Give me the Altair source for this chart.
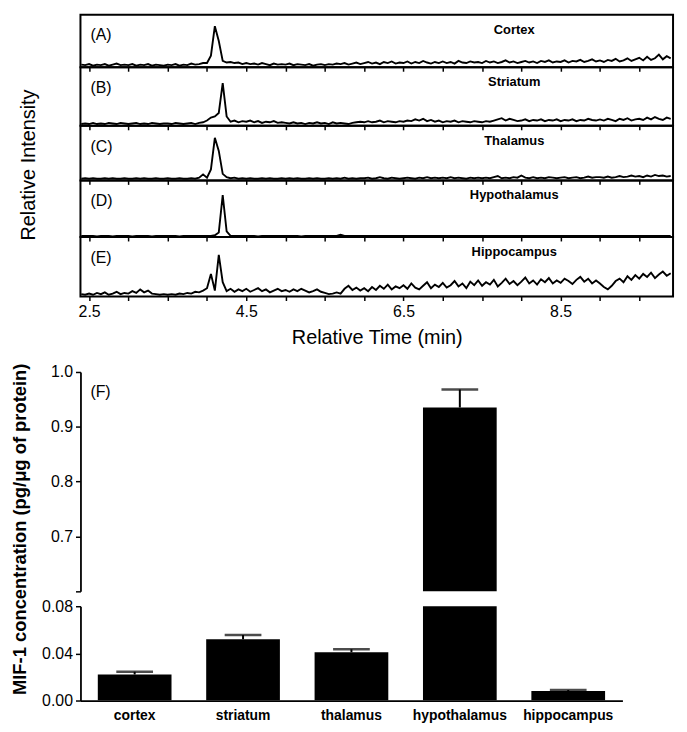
import altair as alt
import pandas as pd

FONT = "Liberation Sans"

# ---------------- chromatograms (A)-(E) ----------------
# sampling grid of the traces, minutes
time_start = 2.4
time_step = 0.05
n_points = 151
times = [round(time_start + time_step * i, 2) for i in range(n_points)]

# relative intensity (% of panel height)
cortex_trace = [5, 4,
    6, 3, 5, 4, 6, 3, 5, 7, 4, 5,
    4, 6, 3, 5, 4, 6, 3, 5, 4, 3,
    5, 4, 6, 3, 5, 4, 7, 5, 6, 8,
    8, 22, 78, 50, 12, 9, 10, 8, 9, 6,
    8, 6, 7, 5, 8, 6, 4, 7, 5, 6,
    5, 7, 4, 6, 5, 4, 6, 3, 5, 6,
    4, 6, 5, 7, 6, 8, 5, 7, 9, 6,
    8, 10, 7, 9, 6, 10, 8, 11, 7, 9,
    8, 11, 7, 10, 8, 12, 9, 7, 10, 8,
    11, 8, 10, 7, 12, 9, 8, 11, 9, 10,
    8, 12, 9, 11, 8, 10, 13, 9, 11, 8,
    10, 12, 9, 11, 8, 12, 10, 13, 9, 11,
    10, 13, 9, 12, 11, 14, 10, 12, 15, 11,
    13, 10, 14, 12, 16, 11, 13, 17, 12, 15,
    18, 13, 20, 14, 17, 24, 15, 21, 17]

striatum_trace = [3, 4,
    3, 5, 3, 4, 3, 5, 4, 3, 5, 4,
    3, 4, 5, 3, 4, 3, 5, 4, 3, 4,
    4, 3, 5, 4, 3, 4, 5, 3, 5, 6,
    9, 14, 16, 22, 73, 16, 7, 9, 6, 8,
    7, 9, 6, 8, 5, 7, 6, 8, 5, 6,
    5, 4, 6, 4, 5, 3, 5, 4, 6, 4,
    5, 3, 6, 4, 5, 4, 3, 5, 6, 7,
    6, 8, 6, 7, 9, 6, 8, 7, 6, 8,
    7, 9, 8, 11, 9, 12, 8, 10, 7, 9,
    6, 8, 7, 9, 6, 8, 7, 6, 8, 7,
    6, 8, 7, 9, 11, 13, 9, 12, 10, 8,
    9, 11, 8, 10, 9, 11, 8, 10, 9, 11,
    8, 10, 9, 11, 8, 10, 9, 12, 10, 9,
    11, 9, 12, 10, 8, 12, 10, 13, 9, 11,
    12, 10, 14, 11, 15, 12, 10, 14, 12]

thalamus_trace = [3, 4,
    3, 4, 3, 3, 4, 3, 4, 3, 3, 4,
    3, 3, 4, 3, 4, 3, 3, 4, 3, 3,
    4, 3, 3, 4, 3, 3, 4, 3, 5, 11,
    5, 20, 78, 54, 12, 6, 4, 5, 3, 4,
    3, 4, 3, 3, 4, 3, 4, 3, 3, 4,
    3, 4, 3, 4, 3, 3, 4, 3, 4, 3,
    3, 4, 3, 4, 3, 5, 3, 4, 3, 4,
    4, 5, 3, 4, 6, 4, 3, 5, 4, 3,
    4, 5, 4, 3, 5, 4, 6, 4, 5, 4,
    5, 4, 6, 4, 5, 4, 3, 5, 4, 5,
    4, 5, 4, 6, 8, 4, 5, 4, 6, 5,
    9, 5, 4, 6, 4, 5, 4, 6, 5, 4,
    5, 6, 4, 5, 6, 4, 5, 7, 5, 6,
    6, 5, 7, 5, 6, 8, 6, 7, 9, 7,
    8, 6, 9, 7, 10, 8, 9, 7, 8]

hypothalamus_trace = [2, 2,
    2, 2, 1, 2, 2, 2, 1, 2, 2, 2,
    2, 1, 2, 2, 2, 2, 1, 2, 2, 2,
    2, 2, 2, 1, 2, 2, 2, 2, 2, 2,
    2, 2, 3, 8, 74, 10, 2, 2, 2, 2,
    2, 2, 2, 1, 2, 2, 2, 2, 2, 2,
    2, 2, 2, 2, 1, 2, 2, 2, 2, 2,
    2, 2, 2, 2, 4, 2, 2, 2, 2, 2,
    2, 2, 2, 2, 2, 2, 2, 2, 2, 2,
    2, 2, 2, 2, 2, 2, 2, 2, 2, 2,
    2, 2, 2, 2, 2, 2, 2, 2, 2, 2,
    2, 2, 2, 2, 2, 2, 2, 2, 2, 2,
    2, 2, 2, 2, 2, 2, 2, 2, 2, 2,
    2, 2, 2, 2, 2, 2, 2, 2, 2, 2,
    2, 2, 2, 2, 2, 2, 2, 2, 2, 2,
    2, 2, 2, 2, 2, 2, 2, 2, 2]

hippocampus_trace = [4, 3,
    5, 3, 6, 4, 7, 3, 5, 8, 4, 6,
    5, 9, 6, 12, 7, 10, 5, 4, 3, 4,
    3, 4, 3, 5, 4, 6, 5, 8, 7, 10,
    14, 38, 10, 70, 24, 9, 13, 8, 12, 9,
    13, 8, 11, 14, 9, 12, 7, 10, 13, 9,
    11, 8, 12, 9, 13, 10, 7, 9, 12, 8,
    6, 4, 5, 7, 5, 13, 18, 11, 15, 10,
    14, 9, 16, 11, 18, 13, 20, 12, 17, 14,
    19, 13, 22, 15, 12, 18, 24, 14, 20, 16,
    23, 15, 19, 26, 17, 22, 14, 25, 19, 27,
    18, 24, 20, 28, 17, 23, 30, 21, 26, 19,
    25, 32, 22, 27, 20, 29, 24, 31, 22, 27,
    23, 30, 26, 21, 28, 33, 25, 30, 22, 27,
    22, 16, 12, 18, 26, 30, 24, 34, 28, 36,
    30, 38, 33, 40, 31, 37, 42, 35, 39]

panel_letters = ["(A)", "(B)", "(C)", "(D)", "(E)"]
panel_names = ["Cortex", "Striatum", "Thalamus", "Hypothalamus", "Hippocampus"]
traces = [cortex_trace, striatum_trace, thalamus_trace, hypothalamus_trace, hippocampus_trace]
panel_heights = [53, 59, 55, 57, 60]
time_ticks = [2.5, 3.0, 3.5, 4.0, 4.5, 5.0, 5.5, 6.0, 6.5, 7.0, 7.5, 8.0, 8.5, 9.0, 9.5]
time_labels = [2.5, 4.5, 6.5, 8.5]
time_domain = [2.39, 9.93]

# ---------------- bar chart (F) ----------------
regions = ["cortex", "striatum", "thalamus", "hypothalamus", "hippocampus"]
conc = [0.022, 0.052, 0.041, 0.935, 0.008]
sem = [0.0025, 0.0035, 0.0025, 0.033, 0.001]
upper_ticks = [0.6, 0.7, 0.8, 0.9, 1.0]
lower_ticks = [0.0, 0.02, 0.04, 0.06, 0.08]

W = 597
panels = []
label_list = "[" + ",".join(str(v) for v in time_labels) + "]"
for k in range(5):
    df = pd.DataFrame({"t": times, "v": traces[k]})
    last = k == 4
    if last:
        xaxis = alt.Axis(values=time_ticks, tickSize=4, tickWidth=1.5, tickColor="black",
                         domain=False, grid=False,
                         labelExpr="indexof(" + label_list + ", datum.value) >= 0 ? format(datum.value, '.1f') : ''",
                         labelFont=FONT, labelFontSize=16, labelColor="black", labelPadding=3,
                         title="Relative Time (min)", titleFont=FONT, titleFontSize=20,
                         titleFontWeight="normal", titleColor="black",
                         titleBaseline="alphabetic", titleY=47)
        x = alt.X("t:Q", scale=alt.Scale(domain=time_domain, nice=False, zero=False), axis=xaxis)
    else:
        xaxis = alt.Axis(values=time_ticks, tickSize=4, tickWidth=1.5, tickColor="black",
                         domain=False, grid=False, labels=False)
        x = alt.X("t:Q", scale=alt.Scale(domain=time_domain, nice=False, zero=False), axis=xaxis, title=None)
    if k == 2:
        y = alt.Y("v:Q", scale=alt.Scale(domain=[0, 100]),
                  axis=alt.Axis(labels=False, ticks=False, domain=False, grid=False,
                                title="Relative Intensity", titleFont=FONT, titleFontSize=20,
                                titleFontWeight="normal", titleColor="black",
                                titleX=-46, titleY=39, titleBaseline="alphabetic"))
    else:
        y = alt.Y("v:Q", scale=alt.Scale(domain=[0, 100]), axis=None)
    line = alt.Chart(df).mark_line(color="black", strokeWidth=1.9, clip=True).encode(x=x, y=y)
    letter = alt.Chart(pd.DataFrame({"s": [panel_letters[k]]})).mark_text(
        align="left", baseline="middle", font=FONT, fontSize=16, color="black"
    ).encode(text="s:N", x=alt.value(10), y=alt.value(21))
    name = alt.Chart(pd.DataFrame({"s": [panel_names[k]]})).mark_text(
        align="center", baseline="middle", font=FONT, fontSize=13, fontWeight="bold", color="black"
    ).encode(text="s:N", x=alt.value(437), y=alt.value(15))
    panels.append(
        alt.layer(line, letter, name).properties(
            width=W, height=panel_heights[k],
            view=alt.ViewBackground(stroke="black", strokeWidth=2))
    )

bar_df = pd.DataFrame({
    "region": regions,
    "conc": conc,
    "upper": [c + s for c, s in zip(conc, sem)],
})
BW = 546
band = alt.Scale(paddingInner=0.32, paddingOuter=0.16)


def segment(domain, yaxis, xaxis, height, extra=None):
    if xaxis is None:
        xu = alt.X("region:N", sort=regions, scale=band, axis=None)
    else:
        xu = alt.X("region:N", sort=regions, scale=band, axis=xaxis, title=None)
    ys = alt.Scale(domain=domain, nice=False, zero=False)
    base = alt.Chart(bar_df)
    bars = base.mark_bar(color="black", clip=True).encode(
        x=xu, y=alt.Y("conc:Q", scale=ys, axis=yaxis), y2=alt.datum(0))
    err = base.mark_rule(color="black", strokeWidth=2, clip=True).encode(
        x=xu, y=alt.Y("conc:Q", scale=ys), y2="upper:Q")
    cap = base.mark_tick(color="black", thickness=2.5, size=37, clip=True).encode(
        x=xu, y=alt.Y("upper:Q", scale=ys))
    layers = [bars, err, cap]
    if extra is not None:
        layers.append(extra)
    return alt.layer(*layers).properties(width=BW, height=height)


upper_axis = alt.Axis(values=upper_ticks,
                      labelExpr="datum.value < 0.65 ? '' : format(datum.value, '.1f')",
                      tickSize=5, tickWidth=1.5, tickColor="black",
                      domainColor="black", domainWidth=1.8, grid=False,
                      labelFont=FONT, labelFontSize=16, labelColor="black", labelPadding=3,
                      title="MIF-1 concentration (pg/\u03bcg of protein)",
                      titleFont=FONT, titleFontSize=18.5, titleFontWeight="bold", titleColor="black",
                      titleX=-55, titleY=158, titleBaseline="alphabetic")
lower_axis = alt.Axis(values=lower_ticks,
                      labelExpr="(abs(datum.value - 0.02) < 0.001 || abs(datum.value - 0.06) < 0.001) ? '' : format(datum.value, '.2f')",
                      tickSize={"condition": {"test": "abs(datum.value - 0.02) < 0.001 || abs(datum.value - 0.06) < 0.001", "value": 3}, "value": 5},
                      tickWidth=1.5, tickColor="black",
                      domainColor="black", domainWidth=1.8, grid=False,
                      labelFont=FONT, labelFontSize=16, labelColor="black", labelPadding=3,
                      title=None)
bottom_x_axis = alt.Axis(labelAngle=0, ticks=False, domainColor="black", domainWidth=1.8,
                         labelFont=FONT, labelFontSize=14, labelFontWeight="bold",
                         labelColor="black", labelPadding=8, grid=False)

f_label = alt.Chart(pd.DataFrame({"s": ["(F)"]})).mark_text(
    align="left", baseline="middle", font=FONT, fontSize=16, color="black"
).encode(text="s:N", x=alt.value(10), y=alt.value(20))

upper = segment([0.6, 1.0], upper_axis, None, 221, f_label)
lower = segment([0.0, 0.08], lower_axis, bottom_x_axis, 95)


def spacer(h):
    return alt.Chart(pd.DataFrame({"s": [""]})).mark_text().encode(
        text="s:N").properties(width=BW, height=h)


chart = alt.vconcat(*panels, spacer(76), upper, spacer(15), lower,
                    spacing=0, bounds="flush").properties(
    padding={"left": 3, "top": 3, "right": 5, "bottom": 5}
).configure_view(strokeWidth=0)

chart.save("out.html", embed_options={"renderer": "svg", "actions": False})
